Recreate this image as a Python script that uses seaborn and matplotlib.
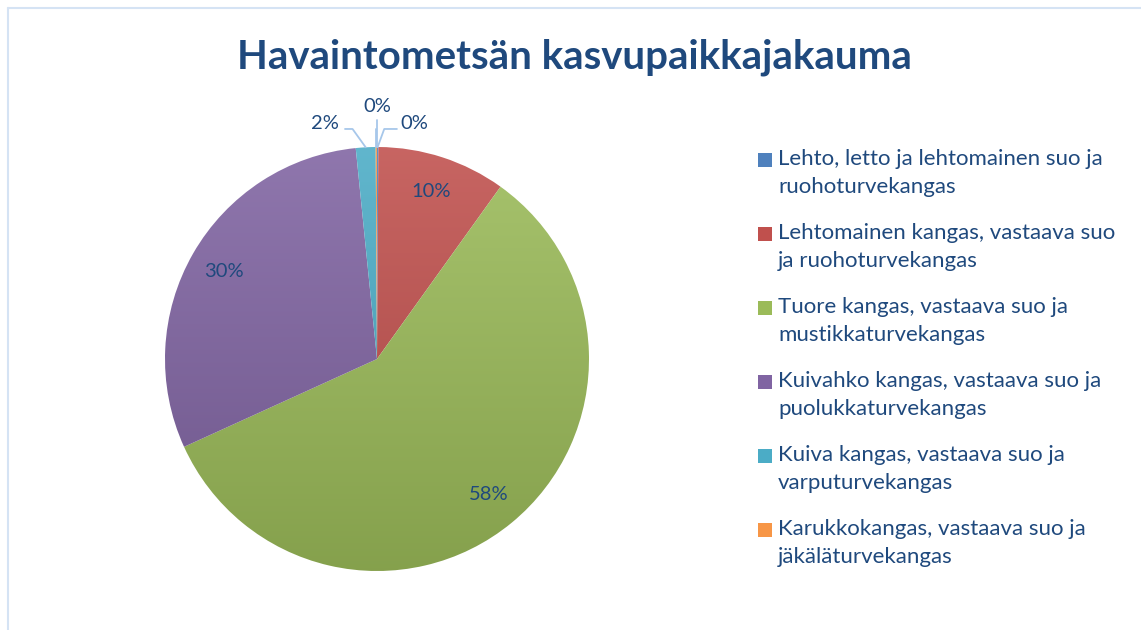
import numpy as np
import matplotlib
matplotlib.use("Agg")
import matplotlib.pyplot as plt
from matplotlib.colors import LinearSegmentedColormap, to_rgb
from matplotlib.lines import Line2D
from matplotlib.patches import Rectangle
import seaborn as sns

# Data
categories = [
    "Lehto, letto ja lehtomainen suo ja\nruohoturvekangas",
    "Lehtomainen kangas, vastaava suo\nja ruohoturvekangas",
    "Tuore kangas, vastaava suo ja\nmustikkaturvekangas",
    "Kuivahko kangas, vastaava suo ja\npuolukkaturvekangas",
    "Kuiva kangas, vastaava suo ja\nvarputurvekangas",
    "Karukkokangas, vastaava suo ja\njäkäläturvekangas",
]
shares = [0.1, 9.8, 58.3, 30.2, 1.5, 0.1]
pct_labels = ["0%", "10%", "58%", "30%", "2%", "0%"]
title = "Havaintometsän kasvupaikkajakauma"

colors = ["#4F81BD", "#C0504D", "#9BBB59", "#8064A2", "#4BACC6", "#F79646"]
text_col = "#1F497D"
leader_col = "#A7C7EA"

sns.set_theme(style="white")
plt.rcParams["font.family"] = ["Lato", "DejaVu Sans"]

fig = plt.figure(figsize=(11.41, 6.30), dpi=100)
fig.patch.set_facecolor("white")

# pie axes: centre (377, 359) px, radius 212 px
W, H = 1141, 630
cx, cy, r = 377, 359, 212
ax = fig.add_axes([(cx - r) / W, (H - cy - r) / H, 2 * r / W, 2 * r / H])

wedges, _ = ax.pie(shares, colors=colors, startangle=90, counterclock=False,
                   radius=1, wedgeprops=dict(linewidth=0))
ax.set_xlim(-1, 1)
ax.set_ylim(-1, 1)
ax.set_aspect("equal")
ax.axis("off")

# office-style vertical gradient in each slice
grad = np.linspace(0, 1, 256).reshape(-1, 1)
for w, c in zip(wedges, colors):
    base = np.array(to_rgb(c))
    light = base + (1 - base) * 0.12
    dark = base * 0.86
    cmap = LinearSegmentedColormap.from_list("g", [light, dark])
    im = ax.imshow(grad, cmap=cmap, extent=[-1, 1, -1, 1], aspect="auto",
                   origin="upper", zorder=1)
    im.set_clip_path(w)
    w.set_facecolor("none")

# data labels
total = sum(shares)
cum = np.cumsum([0] + shares)
mids = [(cum[i] + cum[i + 1]) / 2 / total * 2 * np.pi for i in range(len(shares))]

for i in (1, 2, 3):
    th = mids[i]
    ax.text(0.83 * np.sin(th), 0.83 * np.cos(th), pct_labels[i], ha="center",
            va="center", fontsize=14.5, color=text_col, zorder=3)

# small slices with leader lines
def leader(i, elbow_dx, end_x, tx, ty, ha):
    th = mids[i]
    ex, ey = np.sin(th), np.cos(th)
    pts_x = [ex, ex + elbow_dx]
    pts_y = [ey, 1.085]
    if end_x is not None:
        pts_x.append(end_x)
        pts_y.append(1.085)
    ax.add_line(Line2D(pts_x, pts_y, color=leader_col, lw=1.3, clip_on=False, zorder=2))
    ax.text(tx, ty, pct_labels[i], ha=ha, va="center", fontsize=14.5,
            color=text_col, clip_on=False)

leader(4, -0.062, -0.151, -0.179, 1.113, "right")
leader(5, 0.0, None, 0.0, 1.19, "center")
ax.add_line(Line2D([0, 0], [1.0, 1.127], color=leader_col, lw=1.3, clip_on=False))
leader(0, 0.031, 0.094, 0.108, 1.113, "left")

# title
fig.text(574 / W, 1 - 57 / H, title, ha="center", va="center", fontsize=28.9,
         fontweight="bold", color=text_col)

# legend
for k, (lab, c) in enumerate(zip(categories, colors)):
    y = 160 + 74 * k
    fig.add_artist(Rectangle((758 / W, 1 - (y + 7) / H), 14 / W, 14 / H,
                             transform=fig.transFigure, facecolor=c, edgecolor="none"))
    fig.text(778 / W, 1 - (y - 11) / H, lab, ha="left", va="top", fontsize=16,
             color=text_col, linespacing=1.5)

# faint chart border (top and left)
fig.add_artist(Line2D([8 / W, 1], [1 - 8 / H, 1 - 8 / H], color="#D5E3F4", lw=1.5,
                      transform=fig.transFigure))
fig.add_artist(Line2D([8 / W, 8 / W], [0, 1 - 8 / H], color="#D5E3F4", lw=1.5,
                      transform=fig.transFigure))

fig.savefig("out.png", dpi=100, facecolor="white")
